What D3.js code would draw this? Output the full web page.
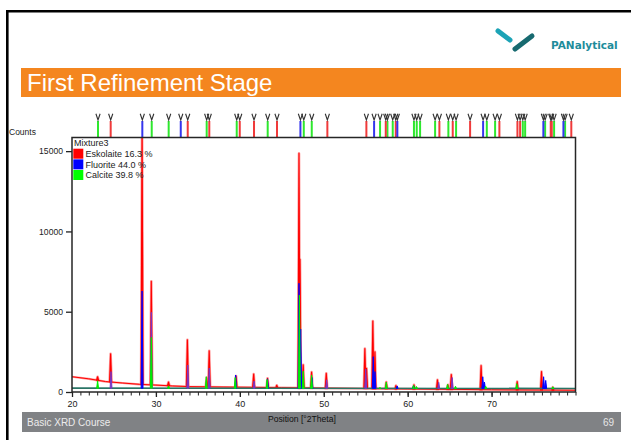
<!DOCTYPE html>
<html>
<head>
<meta charset="utf-8">
<script src="https://cdn.jsdelivr.net/npm/d3@7"></script>
<style>
  body { margin: 0; background: #fff; }
  svg { display: block; }
  text { font-family: "Liberation Sans", Arial, Helvetica, sans-serif; }
</style>
</head>
<body>
<svg id="chart" width="631" height="440"></svg>
<script>
// ---- Data -----------------------------------------------------------
const legendLabels = ["Eskolaite 16.3 %", "Fluorite 44.0 %", "Calcite 39.8 %"];
const sampleName = "Mixture3";

// Reference reflection positions (°2Theta) per phase
const eskolaiteRefs = [24.61, 33.79, 36.36, 39.99, 41.69, 44.43, 50.43, 55.08, 57.39, 58.58,
  63.78, 65.37, 67.44, 70.93, 73.08, 73.4, 77.05, 77.17, 79.5];
const fluoriteRefs = [28.38, 32.96, 47.22, 56.0, 58.77, 68.99, 76.17, 78.56];
const calciteRefs = [23.1, 29.5, 31.52, 36.05, 39.63, 43.32, 47.62, 48.57, 56.71, 57.59, 58.22,
  60.75, 61.08, 61.48, 63.27, 64.85, 65.77, 69.43, 70.42, 73.72, 74.0, 76.38, 77.45, 78.76];

// Measured background (°2Theta, counts)
const obsBgAngles = [20, 22, 24, 26, 28, 30, 32, 34, 38, 45, 50, 60, 70, 80];
const obsBgCounts = [950, 820, 650, 560, 480, 430, 375, 335, 310, 270, 240, 190, 140, 110];
// Fitted background
const calcBgAngles = [20, 80];
const calcBgCounts = [240, 220];

// Measured peaks [°2Theta, counts]
const observedPeaks = [
  [23.05, 950], [24.6, 2380], [28.35, 16800], [29.45, 6900], [31.5, 620], [33.75, 3250],
  [36.05, 900], [36.35, 2560], [39.55, 1000], [41.65, 1120], [43.3, 860], [44.4, 420],
  [47.05, 14860], [47.17, 8260], [47.55, 1700], [48.55, 1240], [50.3, 1170], [54.9, 2700],
  [55.1, 1480], [55.85, 4420], [56.1, 2500], [57.45, 620], [58.6, 400], [60.75, 450],
  [63.55, 760], [64.8, 450], [65.2, 1080], [68.75, 1640], [73.05, 650], [75.95, 1280], [77.3, 300]
];
// Calculated profile, total of minor contributions
const totalCalcPeaks = [
  [24.65, 1270], [29.45, 4960], [33.8, 1680], [36.35, 1490], [41.7, 680], [50.35, 760],
  [55.0, 1430], [63.7, 600], [65.3, 900]
];
// Calculated fluorite profile
const fluoritePeaks = [
  [28.35, 6290], [39.5, 1060], [43.3, 820], [47.05, 6770], [47.25, 3920], [48.6, 900],
  [55.9, 2200], [56.1, 1270], [58.75, 380], [60.7, 420], [68.95, 950], [69.15, 620],
  [76.2, 950], [76.45, 720]
];
// Calculated calcite profile
const calcitePeaks = [
  [23.05, 700], [29.45, 3400], [31.5, 380], [36.0, 950], [39.45, 900], [43.25, 780],
  [47.1, 6040], [47.55, 1300], [48.55, 1050], [56.7, 280], [57.45, 620], [60.7, 420],
  [61.05, 340], [64.75, 480], [65.7, 360], [69.3, 360], [73.0, 520], [77.3, 320]
];

const xTickLabels = [20, 30, 40, 50, 60, 70];
const yTickValues = [0, 5000, 10000, 15000];

// ---- Styles ---------------------------------------------------------
const RED = "#ff0000", BLUE = "#0000ff", GREEN = "#00ee00";
const legendColors = [RED, BLUE, "#00ff00"];

// ---- Slide chrome ---------------------------------------------------
const svg = d3.select("#chart");

svg.append("path")
  .attr("d", "M7.3,440V11.3H631")
  .attr("fill", "none").attr("stroke", "#000").attr("stroke-width", 2.6);

// company mark
svg.append("line").attr("x1", 498).attr("y1", 31).attr("x2", 510).attr("y2", 40)
  .attr("stroke", "#1ca3b6").attr("stroke-width", 5).attr("stroke-linecap", "round");
svg.append("line").attr("x1", 515).attr("y1", 49).attr("x2", 532).attr("y2", 36)
  .attr("stroke", "#176a70").attr("stroke-width", 5).attr("stroke-linecap", "round");
svg.append("text").attr("x", 551).attr("y", 49)
  .style("font-family", "'DejaVu Sans', Verdana, sans-serif")
  .attr("font-weight", "bold").attr("font-size", 10.5).attr("fill", "#1e8c9b")
  .text("PANalytical");

// title bar
svg.append("rect").attr("x", 21).attr("y", 68).attr("width", 600).attr("height", 29)
  .attr("fill", "#f4861f");
svg.append("text").attr("x", 27).attr("y", 91).attr("font-size", 24).attr("fill", "#fff")
  .text("First Refinement Stage");

// footer bar
svg.append("rect").attr("x", 22).attr("y", 412).attr("width", 599).attr("height", 20)
  .attr("fill", "#808285");
svg.append("text").attr("x", 27).attr("y", 425.5).attr("font-size", 10).attr("fill", "#ececec")
  .text("Basic XRD Course");
svg.append("text").attr("x", 614).attr("y", 425.5).attr("font-size", 10).attr("fill", "#e6e6e6")
  .attr("text-anchor", "end").text("69");

// ---- Plot -----------------------------------------------------------
const pLeft = 72, pRight = 575.5, pTop = 137.5, pBottom = 392;
const x = d3.scaleLinear().domain([20, 80]).range([pLeft, pRight]);
const y = d3.scaleLinear().domain([0, 15850]).range([pBottom, pTop]);

const obsBg = d3.scaleLinear().domain(obsBgAngles).range(obsBgCounts);
const calcBg = d3.scaleLinear().domain(calcBgAngles).range(calcBgCounts);

const line = d3.line().x(d => x(d[0])).y(d => y(d[1]));

svg.append("defs").append("clipPath").attr("id", "plotClip")
  .append("rect").attr("x", pLeft).attr("y", pTop)
  .attr("width", pRight - pLeft).attr("height", pBottom - pTop);

const plot = svg.append("g").attr("clip-path", "url(#plotClip)");

function spikePath(p, hw, base) {
  const a = p[0];
  return line([[a - hw, base(a - hw)], [a, p[1]], [a + hw, base(a + hw)]]) + "Z";
}

// measured pattern: pale halo under a solid red trace
[["#ff9a9a", 2.2, 2.6], [RED, 1.0, 1.1]].forEach(([col, wBg, wPk]) => {
  const g = plot.append("g");
  g.append("path")
    .attr("d", line(obsBgAngles.map((a, i) => [a, obsBgCounts[i]])))
    .attr("fill", "none").attr("stroke", col).attr("stroke-width", wBg);
  g.selectAll("path.pk").data(observedPeaks).join("path").attr("class", "pk")
    .attr("d", d => spikePath(d, 0.12, obsBg))
    .attr("fill", col).attr("stroke", col).attr("stroke-width", wPk).attr("stroke-linejoin", "round");
});

// fitted background
plot.append("path")
  .attr("d", line(calcBgAngles.map((a, i) => [a, calcBgCounts[i]])))
  .attr("fill", "none").attr("stroke", "#2a7566").attr("stroke-width", 1.6);

function drawCalc(peaks, col) {
  plot.append("g").selectAll("path").data(peaks).join("path")
    .attr("d", d => spikePath(d, 0.11, calcBg))
    .attr("fill", col).attr("stroke", col).attr("stroke-width", 1.0).attr("stroke-linejoin", "round");
}
drawCalc(totalCalcPeaks, "#7a36c4");
drawCalc(fluoritePeaks, BLUE);
drawCalc(calcitePeaks, GREEN);

// ---- Reference markers above the plot -------------------------------
const markerSets = [[calciteRefs, "#2ee82e"], [eskolaiteRefs, "#f03a3a"], [fluoriteRefs, "#3535ee"]];
markerSets.forEach(([refs, col]) => {
  const g = svg.append("g");
  g.selectAll("line").data(refs).join("line")
    .attr("x1", d => x(d)).attr("x2", d => x(d))
    .attr("y1", 121).attr("y2", pTop)
    .attr("stroke", col).attr("stroke-width", 2);
  g.selectAll("path").data(refs).join("path")
    .attr("d", d => `M${x(d) - 2.1},113.8L${x(d)},120L${x(d) + 2.1},113.8`)
    .attr("fill", "none").attr("stroke", "#333").attr("stroke-width", 1.1);
});

// ---- Axes -----------------------------------------------------------
const gy = svg.append("g").attr("transform", `translate(${pLeft},0)`)
  .call(d3.axisLeft(y).tickValues(yTickValues).tickSize(6).tickPadding(3).tickFormat(d3.format("d")));
gy.select(".domain").remove();
gy.selectAll("line").attr("stroke", "#222").attr("stroke-width", 1.3);
gy.selectAll("text").attr("font-size", 8.6).attr("fill", "#222")
  .style("font-family", "'Liberation Sans', Arial, sans-serif");

const gxMinor = svg.append("g").attr("transform", `translate(0,${pBottom})`)
  .call(d3.axisBottom(x).tickValues(x.ticks(60)).tickSize(3.5).tickFormat(""));
gxMinor.select(".domain").remove();
gxMinor.selectAll("line").attr("stroke", "#222").attr("stroke-width", 1);

const gx = svg.append("g").attr("transform", `translate(0,${pBottom})`)
  .call(d3.axisBottom(x).tickValues(xTickLabels).tickSize(5).tickPadding(4).tickFormat(d3.format("d")));
gx.select(".domain").remove();
gx.selectAll("line").attr("stroke", "#222").attr("stroke-width", 1.3);
gx.selectAll("text").attr("font-size", 9).attr("fill", "#222")
  .style("font-family", "'Liberation Sans', Arial, sans-serif");

// plot frame
svg.append("rect").attr("x", pLeft).attr("y", pTop)
  .attr("width", pRight - pLeft).attr("height", pBottom - pTop)
  .attr("fill", "none").attr("stroke", "#262626").attr("stroke-width", 1.5);

// axis titles
svg.append("text").attr("x", 9).attr("y", 135).attr("font-size", 8.5).attr("fill", "#222").text("Counts");
svg.append("text").attr("x", 268).attr("y", 422).attr("font-size", 8.6).attr("fill", "#111")
  .text("Position [°2Theta]");

// ---- Legend ---------------------------------------------------------
const legend = svg.append("g");
legend.append("text").attr("x", 74).attr("y", 145.5).attr("font-size", 9).attr("fill", "#222").text(sampleName);
legendLabels.forEach((lab, i) => {
  legend.append("rect").attr("x", 73.3).attr("y", 148.7 + i * 10.65).attr("width", 10).attr("height", 10)
    .attr("fill", legendColors[i]);
  legend.append("text").attr("x", 85.5).attr("y", 157 + i * 10.65).attr("font-size", 9).attr("fill", "#222")
    .text(lab);
});
</script>
</body>
</html>
